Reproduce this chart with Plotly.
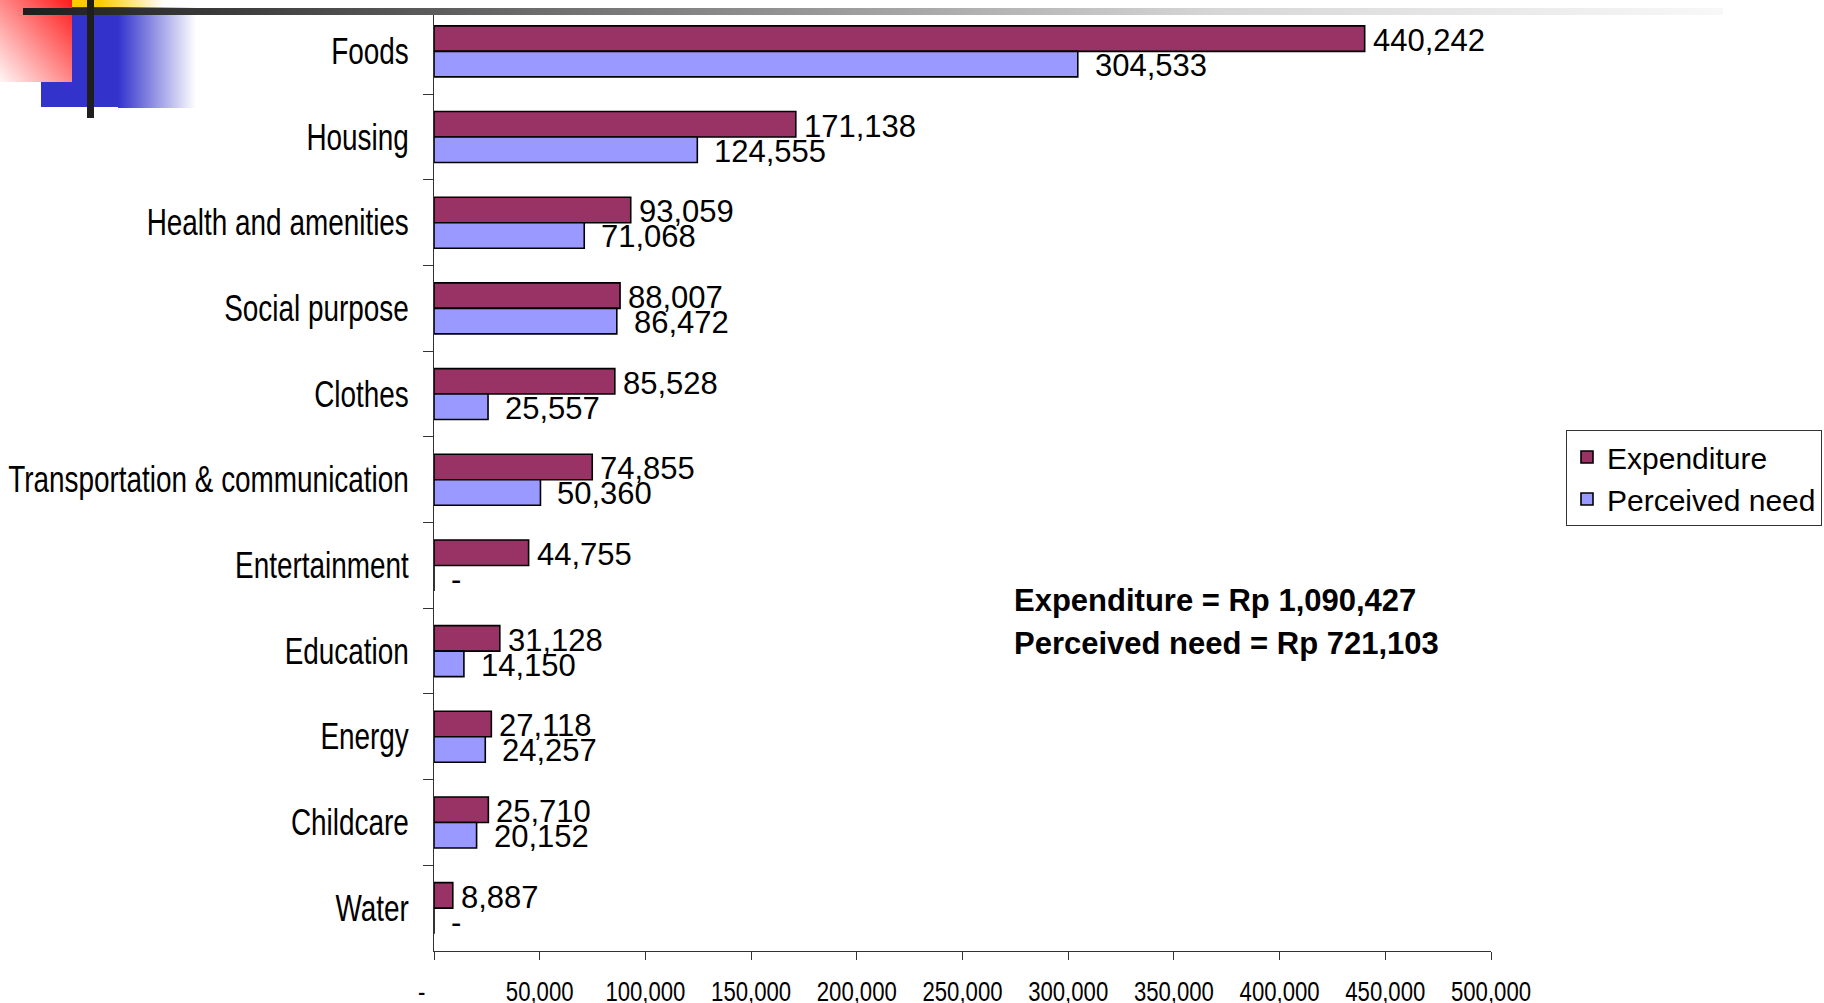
import base64
import plotly.graph_objects as go

# ---- data -------------------------------------------------------------
categories = [
    "Foods", "Housing", "Health and amenities", "Social purpose", "Clothes",
    "Transportation & communication", "Entertainment", "Education", "Energy",
    "Childcare", "Water",
]
expenditure = [440242, 171138, 93059, 88007, 85528, 74855, 44755, 31128, 27118, 25710, 8887]
perceived_need = [304533, 124555, 71068, 86472, 25557, 50360, 0, 14150, 24257, 20152, 0]

x_tick_values = [0, 50000, 100000, 150000, 200000, 250000, 300000, 350000, 400000, 450000, 500000]
total_lines = ["Expenditure = Rp 1,090,427", "Perceived need = Rp 721,103"]

# ---- styling ----------------------------------------------------------
W, H = 1824, 1003
PLOT_L, PLOT_R, PLOT_T, PLOT_B = 434, 1491, 8.5, 951
EXP_COLOR = "#993366"
NEED_COLOR = "#9999FF"
SANS = "Liberation Sans, Arial, Helvetica, sans-serif"
AXIS_COLOR = "#333333"


def fmt(v):
    return "-" if v == 0 else f"{v:,}"


def tick_fmt(v):
    # accounting style: the zero dash sits left of its tick
    return "-" + "\u00a0" * 4 if v == 0 else f"{v:,}"


def px_x(p):
    return p / W


def px_y(p):
    return (H - p) / H


fig = go.Figure()
fig.add_trace(go.Bar(
    name="Expenditure", y=categories, x=expenditure, orientation="h",
    marker=dict(color=EXP_COLOR, line=dict(color="black", width=1.6)),
    hoverinfo="skip",
))
fig.add_trace(go.Bar(
    name="Perceived need", y=categories, x=perceived_need, orientation="h",
    marker=dict(color=NEED_COLOR, line=dict(color="black", width=1.6)),
    hoverinfo="skip",
))

# value labels beside each bar
annotations = []
for cat, v in zip(categories, expenditure):
    annotations.append(dict(
        x=v, y=cat, xref="x", yref="y", text=fmt(v), showarrow=False,
        xanchor="left", yanchor="middle", xshift=6, yshift=11,
        font=dict(family=SANS, size=31, color="black"),
    ))
for cat, v in zip(categories, perceived_need):
    annotations.append(dict(
        x=v, y=cat, xref="x", yref="y", text=fmt(v), showarrow=False,
        xanchor="left", yanchor="middle", xshift=15, yshift=-14,
        font=dict(family=SANS, size=31, color="black"),
    ))

# totals text block
for i, line in enumerate(total_lines):
    annotations.append(dict(
        x=px_x(1012), y=px_y(601 + 42 * i), xref="paper", yref="paper",
        text=f"<b>{line}</b>", showarrow=False, xanchor="left", yanchor="middle",
        font=dict(family=SANS, size=31, color="black"),
    ))

# slide corner decoration (gradient blocks and rules)
deco_svg = f"""<svg xmlns='http://www.w3.org/2000/svg' width='{W}' height='130' viewBox='0 0 {W} 130'>
<defs>
<linearGradient id='r' x1='1' y1='0' x2='0' y2='1'><stop offset='0' stop-color='#ff1a1a'/><stop offset='1' stop-color='#fff6f6'/></linearGradient>
<linearGradient id='y' x1='0' y1='0' x2='1' y2='0'><stop offset='0' stop-color='#ffcc00'/><stop offset='1' stop-color='#ffffff'/></linearGradient>
<linearGradient id='b' x1='0' y1='0' x2='1' y2='0'><stop offset='0' stop-color='#3333cc'/><stop offset='1' stop-color='#ffffff'/></linearGradient>
<linearGradient id='g' x1='0' y1='0' x2='1' y2='0'><stop offset='0' stop-color='#1e1e1e'/><stop offset='0.12' stop-color='#3c3c3c'/><stop offset='0.7' stop-color='#d6d6d6'/><stop offset='1' stop-color='#f8f8f8'/></linearGradient>
</defs>
<rect x='72' y='0' width='28' height='8' fill='#ffcc00'/>
<rect x='100' y='0' width='65' height='8' fill='url(#y)'/>
<rect x='41' y='7' width='77' height='100' fill='#3333cc'/>
<rect x='118' y='7' width='78' height='101' fill='url(#b)'/>
<rect x='0' y='0' width='72' height='82' fill='url(#r)'/>
<rect x='23' y='8' width='1700' height='7' fill='url(#g)'/>
<rect x='87' y='0' width='7' height='118' fill='#1e1e1e'/>
</svg>"""
deco_src = "data:image/svg+xml;base64," + base64.b64encode(deco_svg.encode()).decode()

fig.update_layout(
    width=W, height=H,
    margin=dict(l=0, r=0, t=0, b=0, autoexpand=False),
    paper_bgcolor="white", plot_bgcolor="white",
    barmode="group", bargap=0.405, bargroupgap=0,
    showlegend=True,
    legend=dict(
        x=px_x(1566), y=px_y(430), xanchor="left", yanchor="top",
        bordercolor=AXIS_COLOR, borderwidth=1, bgcolor="white",
        font=dict(family=SANS, size=30, color="black"),
        traceorder="normal", tracegroupgap=0,
    ),
    annotations=annotations,
    images=[dict(
        source=deco_src, xref="paper", yref="paper", x=0, y=1,
        sizex=1, sizey=130 / H, xanchor="left", yanchor="top",
        sizing="stretch", layer="above",
    )],
    xaxis=dict(
        domain=[px_x(PLOT_L), px_x(PLOT_R)], range=[0, 500000],
        tickvals=x_tick_values, ticktext=[tick_fmt(v) for v in x_tick_values],
        ticks="outside", ticklen=8, tickcolor=AXIS_COLOR, tickwidth=1,
        showline=True, linecolor=AXIS_COLOR, linewidth=1,
        showgrid=False, zeroline=False, automargin=False,
        tickfont=dict(family=SANS, size=27, color="black"),
        ticklabelstandoff=9,
    ),
    yaxis=dict(
        domain=[px_y(PLOT_B), px_y(PLOT_T)],
        type="category", categoryorder="array", categoryarray=categories,
        autorange="reversed", tickson="boundaries",
        ticks="outside", ticklen=10, tickcolor=AXIS_COLOR, tickwidth=1,
        showline=True, linecolor=AXIS_COLOR, linewidth=1,
        showgrid=False, zeroline=False, automargin=False,
        tickfont=dict(family=SANS, size=36, color="black"),
        ticklabelstandoff=17,
    ),
)

# axis tick labels are set in a narrow face: compress the glyphs horizontally
narrow_ticks_js = """
var gd = document.getElementById('{plot_id}');
function narrowTicks() {
  var squeeze = [['.xtick text', 0.82], ['.ytick text', 0.775]];
  squeeze.forEach(function (pair) {
    gd.querySelectorAll(pair[0]).forEach(function (t) {
      if (t.getAttribute('data-narrow')) return;
      var w = t.getComputedTextLength();
      t.setAttribute('textLength', (w * pair[1]).toFixed(2));
      t.setAttribute('lengthAdjust', 'spacingAndGlyphs');
      t.setAttribute('data-narrow', '1');
    });
  });
}
narrowTicks();
gd.on('plotly_afterplot', narrowTicks);
"""

fig.write_html("out.html", config={"displayModeBar": False}, post_script=narrow_ticks_js)
